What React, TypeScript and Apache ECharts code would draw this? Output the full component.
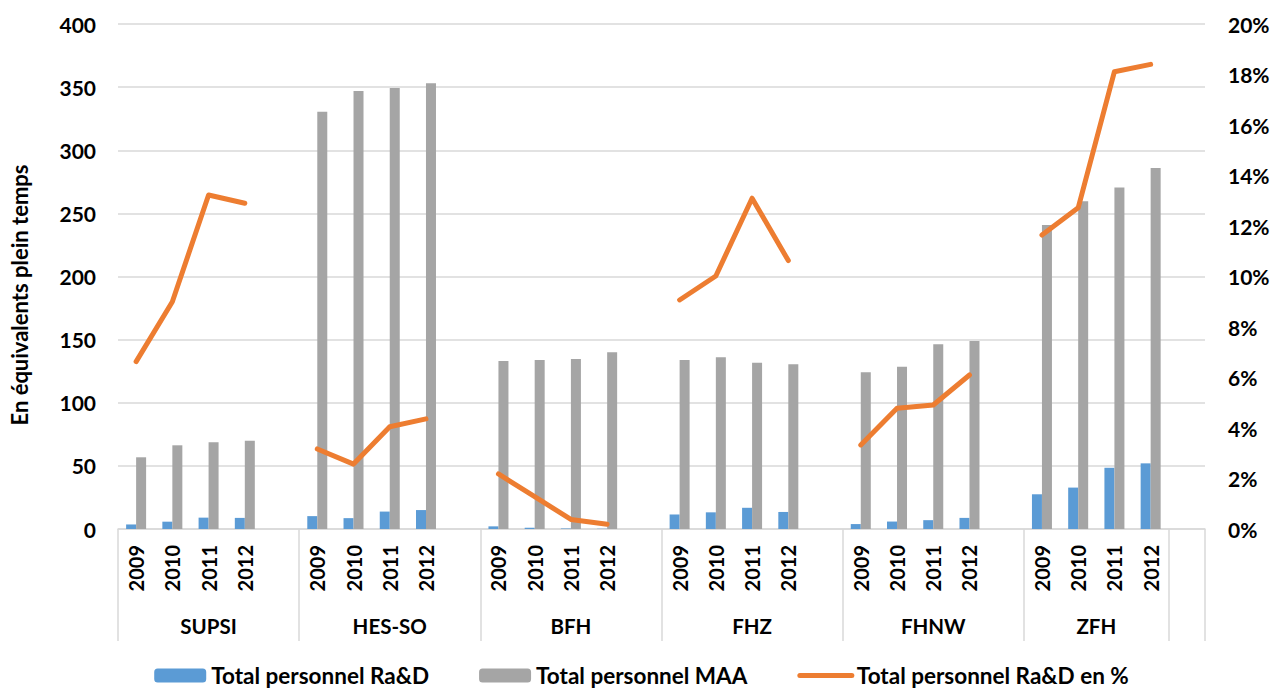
import React, { useEffect, useRef } from "react";
import * as echarts from "echarts";

const groups = ["SUPSI", "HES-SO", "BFH", "FHZ", "FHNW", "ZFH"];
const years = ["2009", "2010", "2011", "2012"];

// values per group, 2009..2012
const rdPersonnel = [
  [3.6, 5.8, 9.0, 8.8],
  [10.2, 8.6, 13.8, 15.0],
  [2.1, 1.0, 0.4, 0.2],
  [11.5, 13.2, 16.8, 13.5],
  [3.9, 5.9, 7.0, 8.8],
  [27.5, 32.8, 48.5, 52.0],
];
const maaPersonnel = [
  [56.8, 66.3, 68.7, 70.0],
  [330.5, 347.0, 349.3, 353.0],
  [133.0, 133.8, 134.6, 140.0],
  [133.8, 136.0, 131.7, 130.4],
  [124.1, 128.6, 146.3, 148.9],
  [240.8, 259.6, 270.4, 286.0],
];
const rdPercent = [
  [6.63, 9.0, 13.23, 12.9],
  [3.17, 2.57, 4.05, 4.36],
  [2.18, 1.28, 0.38, 0.19],
  [9.07, 10.02, 13.1, 10.63],
  [3.33, 4.78, 4.91, 6.1],
  [11.64, 12.72, 18.11, 18.4],
];

const leftTicks = { min: 0, max: 400, interval: 50 };
const rightTicks = { min: 0, max: 20, interval: 2 };

const seriesNames = [
  "Total personnel Ra&D",
  "Total personnel MAA",
  "Total personnel Ra&D en %",
];

// Build the flat category list: each group has 4 years + a blank slot
const categories: string[] = [];
const rdData: (number | null)[] = [];
const maaData: (number | null)[] = [];
const pctData: (number | null)[] = [];
groups.forEach((g, gi) => {
  years.forEach((y, yi) => {
    categories.push(`${g}|${y}`);
    rdData.push(rdPersonnel[gi][yi]);
    maaData.push(maaPersonnel[gi][yi]);
    pctData.push(rdPercent[gi][yi]);
  });
  categories.push(`${g}|gap`);
  rdData.push(null);
  maaData.push(null);
  pctData.push(null);
});

// Group axis in half-slot units (boundaryGap false): n = 2*slots + 1 points
const nSlots = categories.length; // 30
const groupPositions: Record<number, string> = {};
const groupBoundaries: number[] = [];
{
  let slot = 0;
  groups.forEach((g, gi) => {
    const size = gi === groups.length - 1 ? 4 : 5;
    groupBoundaries.push(slot * 2);
    groupPositions[slot * 2 + size] = g;
    slot += size;
  });
  groupBoundaries.push(slot * 2);
  groupBoundaries.push(nSlots * 2);
}
const groupAxisData = Array.from({ length: nSlots * 2 + 1 }, (_, i) => `p${i}`);

const FONT = "Lato";
const TEXT_COLOR = "#000";

export default function App() {
  const ref = useRef<HTMLDivElement>(null);
  useEffect(() => {
    if (!ref.current) return;
    const chart = echarts.init(ref.current, undefined, { renderer: "svg" });
    const textBase = {
      fontFamily: FONT,
      fontWeight: "bold" as const,
      fontSize: 20,
      color: TEXT_COLOR,
    };
    chart.setOption({
      animation: false,
      backgroundColor: "#fff",
      textStyle: { fontFamily: FONT },
      grid: { left: 118, right: 78, top: 24, bottom: 159, containLabel: false },
      legend: {
        bottom: 0,
        padding: [5, 5, 1, 5],
        left: "center",
        itemWidth: 52,
        itemHeight: 14,
        itemGap: 50,
        textStyle: { ...textBase, fontSize: 22.5 },
        data: [
          seriesNames[0],
          seriesNames[1],
          {
            name: seriesNames[2],
            itemStyle: { opacity: 0 },
            lineStyle: { width: 5, color: "#ED7D31", cap: "round" },
          },
        ],
      },
      graphic: [
        {
          type: "text",
          x: 19,
          y: 295,
          rotation: Math.PI / 2,
          style: {
            text: "En équivalents plein temps",
            fontFamily: FONT,
            fontWeight: "bold",
            fontSize: 22,
            fill: TEXT_COLOR,
            textAlign: "center",
            textVerticalAlign: "middle",
          },
        },
      ],
      xAxis: [
        {
          type: "category",
          data: categories,
          boundaryGap: true,
          axisLine: { show: true, lineStyle: { color: "#D9D9D9", width: 1.5 } },
          axisTick: { show: false },
          axisLabel: {
            ...textBase,
            rotate: 90,
            interval: 0,
            margin: 16,
            formatter: (v: string) => {
              const y = v.split("|")[1];
              return y === "gap" ? "" : y;
            },
          },
        },
        {
          type: "category",
          data: groupAxisData,
          boundaryGap: false,
          position: "bottom",
          axisLine: { show: false },
          axisTick: {
            show: true,
            length: 112,
            interval: (i: number) => groupBoundaries.includes(i),
            lineStyle: { color: "#D9D9D9", width: 1.5 },
          },
          axisLabel: {
            ...textBase,
            fontSize: 20.5,
            interval: (i: number) => groupPositions[i] !== undefined,
            margin: 86,
            formatter: (_v: string, i: number) => groupPositions[i] ?? "",
          },
          splitLine: { show: false },
        },
      ],
      yAxis: [
        {
          type: "value",
          ...leftTicks,
          axisLine: { show: false },
          axisTick: { show: false },
          splitLine: { lineStyle: { color: "#D9D9D9", width: 1.5 } },
          axisLabel: { ...textBase, fontSize: 21, margin: 22 },
        },
        {
          type: "value",
          ...rightTicks,
          position: "right",
          axisLine: { show: false },
          axisTick: { show: false },
          splitLine: { show: false },
          axisLabel: { ...textBase, fontSize: 21, margin: 23, formatter: "{value}%" },
        },
      ],
      series: [
        {
          name: seriesNames[0],
          type: "bar",
          data: rdData,
          barWidth: 10,
          barGap: "0%",
          itemStyle: { color: "#5B9BD5" },
        },
        {
          name: seriesNames[1],
          type: "bar",
          data: maaData,
          barWidth: 10,
          barGap: "0%",
          itemStyle: { color: "#A5A5A5" },
        },
        {
          name: seriesNames[2],
          type: "line",
          yAxisIndex: 1,
          data: pctData,
          connectNulls: false,
          symbol: "none",
          lineStyle: { color: "#ED7D31", width: 5, cap: "round", join: "round" },
          itemStyle: { color: "#ED7D31" },
        },
      ],
    });
    return () => chart.dispose();
  }, []);
  return <div ref={ref} style={{ width: 1283, height: 688, position: "absolute", left: 0, top: 0 }} />;
}
